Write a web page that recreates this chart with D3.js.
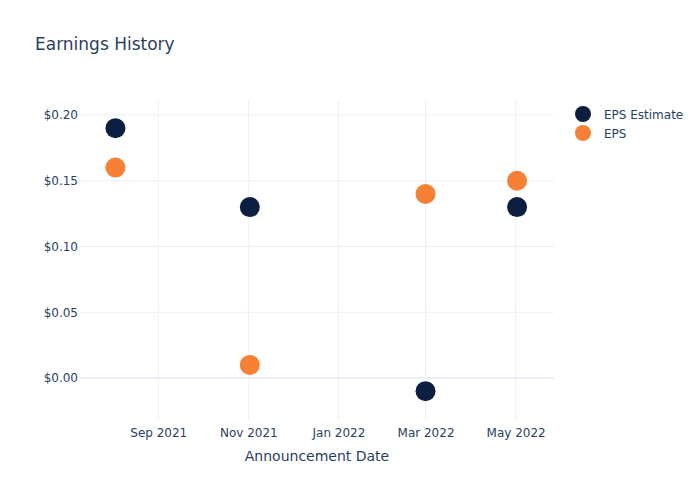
<!DOCTYPE html>
<html>
<head>
<meta charset="utf-8">
<script src="https://cdn.jsdelivr.net/npm/d3@7"></script>
<style>
body { margin: 0; background: #fff; }
svg { display: block; font-family: "DejaVu Sans", sans-serif; }
</style>
</head>
<body>
<svg id="chart" width="700" height="500"></svg>
<script>
const dates = ["2021-08-03", "2021-11-02", "2022-03-01", "2022-05-02"];
const epsEstimate = [0.19, 0.13, -0.01, 0.13];
const eps = [0.16, 0.01, 0.14, 0.15];
const yTicks = [0, 0.05, 0.10, 0.15, 0.20];
const xTickDates = ["2021-09-01", "2021-11-01", "2022-01-01", "2022-03-01", "2022-05-01"];
const seriesNames = ["EPS Estimate", "EPS"];
const colors = ["#0c1f41", "#f68034"];

(function () {
const parse = d3.utcParse("%Y-%m-%d");
const svg = d3.select("#chart");
const pL = 80, pR = 554, pT = 100, pB = 420;

const x = d3.scaleUtc()
  .domain([parse("2021-07-10"), parse("2022-05-27")])
  .range([pL, pR]);
const y = d3.scaleLinear()
  .domain([-0.0319, 0.2114])
  .range([pB, pT]);

const textColor = "#2a3f5f";
const gridColor = "#ebf0f8";

svg.append("g").selectAll("line").data(xTickDates).join("line")
  .attr("x1", d => x(parse(d))).attr("x2", d => x(parse(d)))
  .attr("y1", pT).attr("y2", pB)
  .attr("stroke", gridColor).attr("stroke-width", 1);
svg.append("g").selectAll("line").data(yTicks).join("line")
  .attr("x1", pL).attr("x2", pR)
  .attr("y1", d => y(d)).attr("y2", d => y(d))
  .attr("stroke", gridColor).attr("stroke-width", d => d === 0 ? 2 : 1);

const xAxis = d3.axisBottom(x)
  .tickValues(xTickDates.map(parse))
  .tickFormat(d3.utcFormat("%b %Y"))
  .tickSize(0).tickPadding(8);
const gx = svg.append("g").attr("transform", `translate(0,${pB})`).call(xAxis);
gx.select(".domain").remove();
gx.selectAll("text").attr("fill", textColor).attr("font-size", 12)
  .attr("font-family", "DejaVu Sans, sans-serif");

const yAxis = d3.axisLeft(y)
  .tickValues(yTicks)
  .tickFormat(d => "$" + d3.format(".2f")(d))
  .tickSize(0).tickPadding(2);
const gy = svg.append("g").attr("transform", `translate(${pL},0)`).call(yAxis);
gy.select(".domain").remove();
gy.selectAll("text").attr("fill", textColor).attr("font-size", 12)
  .attr("font-family", "DejaVu Sans, sans-serif");

const series = [epsEstimate, eps];
series.forEach((vals, i) => {
  svg.append("g").selectAll("circle").data(vals).join("circle")
    .attr("cx", (d, j) => x(parse(dates[j])))
    .attr("cy", d => y(d))
    .attr("r", 10)
    .attr("fill", colors[i]);
});

svg.append("text").attr("x", 35).attr("y", 50)
  .attr("fill", textColor).attr("font-size", 17)
  .text("Earnings History");

svg.append("text").attr("x", (pL + pR) / 2).attr("y", 461)
  .attr("text-anchor", "middle").attr("fill", textColor).attr("font-size", 14)
  .text("Announcement Date");

const lg = svg.append("g");
seriesNames.forEach((name, i) => {
  const ly = 114 + i * 19;
  lg.append("circle").attr("cx", 583).attr("cy", ly).attr("r", 8).attr("fill", colors[i]);
  lg.append("text").attr("x", 604).attr("y", ly + 4.5)
    .attr("fill", textColor).attr("font-size", 12).text(name);
});
})();
</script>
</body>
</html>
